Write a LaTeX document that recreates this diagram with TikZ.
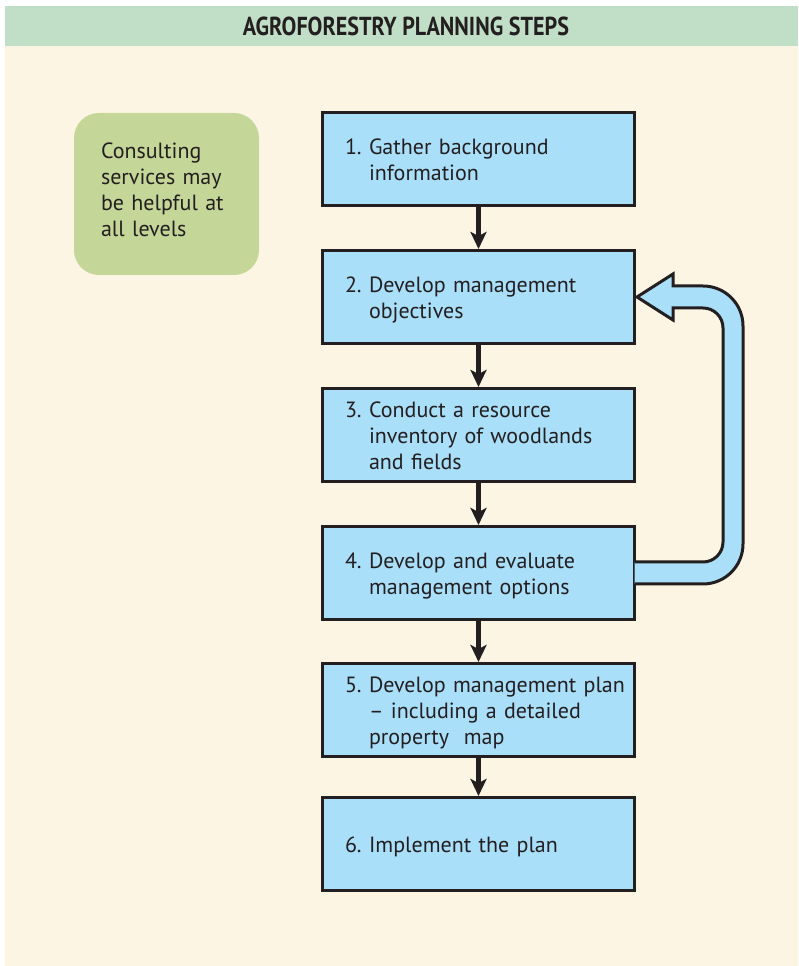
\documentclass[tikz,border=0pt]{standalone}
\usepackage{fontspec}
\setmainfont{PT Sans}
\newfontfamily\titlefont[FakeStretch=0.85]{PT Sans}
\usetikzlibrary{positioning,calc,arrows.meta}
\definecolor{inkdark}{HTML}{231F20}
\definecolor{headgreen}{HTML}{C1DEC7}
\definecolor{paper}{HTML}{FDF5E4}
\definecolor{boxblue}{HTML}{AADFF9}
\definecolor{notegreen}{HTML}{C5D699}
\newcommand{\stp}[2]{\begin{tabular}{@{}l@{\ }l@{}}#1 & #2\end{tabular}\par\vspace*{-6pt}}

\begin{document}
\begin{tikzpicture}[x=1pt,y=1pt,
    stepbox/.style={draw=inkdark, line width=3pt, fill=boxblue, text=inkdark,
      text width=267pt, align=left, inner xsep=22.5pt, inner ysep=2pt, minimum height=93pt,
      font=\fontsize{22}{26}\selectfont},
    notebox/.style={fill=notegreen, rounded corners=25pt, text=inkdark,
      text width=131pt, align=left, inner xsep=27pt, minimum height=162pt,
      font=\fontsize{22}{26}\selectfont},
    steparrow/.style={draw=inkdark, line width=5pt,
      -{Stealth[length=17pt,width=16pt,inset=4pt]}},
    looparrow/.style={draw=inkdark, line width=3pt, fill=boxblue},
    node distance=42pt]

    \useasboundingbox (0,0) rectangle (798,966);
    \fill[paper] (5,0) rectangle (798,920);
    \fill[headgreen] (5,920) rectangle (798,960);
    \node[text=inkdark, font=\titlefont\bfseries\fontsize{26}{30}\selectfont] (title) at (406,940)
        {AGROFORESTRY PLANNING STEPS};

    \node[notebox] (note) at (166.5,772)
        {Consulting\\services may\\be helpful at\\all levels\\[-17pt]\mbox{}};

    \node[stepbox] (s1) at (478.5,807) {\stp{1.}{Gather background\\ & information}};
    \node[stepbox, below=of s1] (s2) {\stp{2.}{Develop management\\ & objectives}};
    \node[stepbox, below=of s2] (s3) {\stp{3.}{Conduct a resource\\ & inventory of woodlands\\ & and fields}};
    \node[stepbox, below=of s3] (s4) {\stp{4.}{Develop and evaluate\\ & management options}};
    \node[stepbox, below=41pt of s4] (s5) {\stp{5.}{Develop management plan\\ & \textendash{} including a detailed\\ & property~~map}};
    \node[stepbox, below=38pt of s5] (s6) {\stp{6.}{Implement the plan}};

    \foreach \a/\b in {s1/s2,s2/s3,s3/s4,s4/s5,s5/s6}
        \draw[steparrow] (\a) -- (\b);

    % feedback from step 4 back to step 2
    \draw[looparrow] ($(s4.east)+(-1.5,-11)$) -- ($(s4.east)+(67,-11)$)
        arc[start angle=-90, end angle=0, radius=40pt] -- ($(s2.east)+(107,-29)$)
        arc[start angle=0, end angle=90, radius=40pt] -- ($(s2.east)+(37,11)$)
        -- ($(s2.east)+(37,23)$) -- ($(s2.east)+(1,0)$) -- ($(s2.east)+(37,-23)$)
        -- ($(s2.east)+(37,-11)$) -- ($(s2.east)+(67,-11)$)
        arc[start angle=90, end angle=0, radius=20pt] -- ($(s4.east)+(87,31)$)
        arc[start angle=0, end angle=-90, radius=20pt] -- ($(s4.east)+(-1.5,11)$);
\end{tikzpicture}
\end{document}
